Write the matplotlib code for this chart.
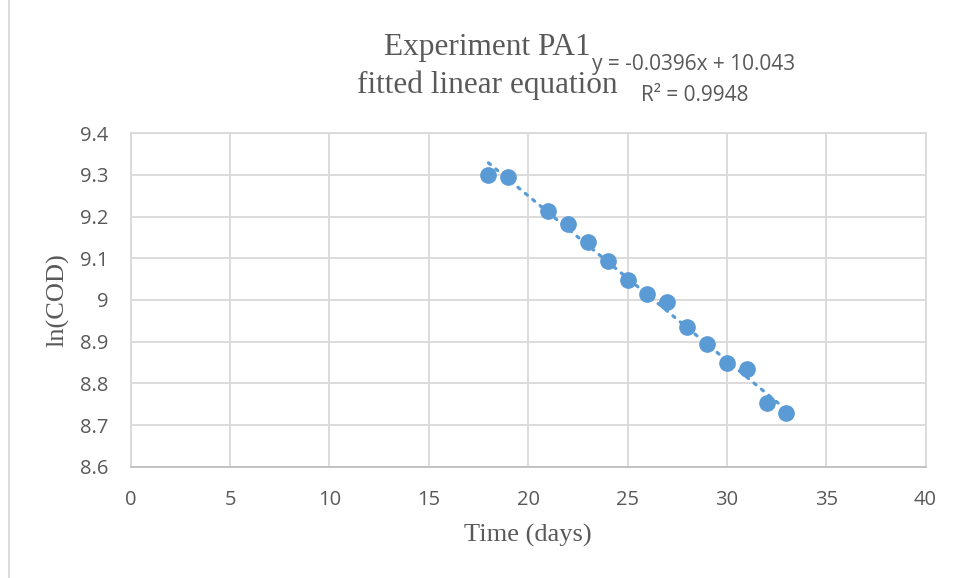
import numpy as np
import matplotlib
matplotlib.use('Agg')
import matplotlib.pyplot as plt
from matplotlib.lines import Line2D

# data
days = [18, 19, 21, 22, 23, 24, 25, 26, 27, 28, 29, 30, 31, 32, 33]
ln_cod = [9.300, 9.294, 9.214, 9.183, 9.140, 9.094, 9.048, 9.014, 8.994,
          8.934, 8.894, 8.848, 8.834, 8.752, 8.728]
x_ticks = [0, 5, 10, 15, 20, 25, 30, 35, 40]
y_ticks = [8.6, 8.7, 8.8, 8.9, 9.0, 9.1, 9.2, 9.3, 9.4]
y_labels = ['8.6', '8.7', '8.8', '8.9', '9', '9.1', '9.2', '9.3', '9.4']

blue = '#5B9BD5'
grid = '#D9D9D9'
txt = '#595959'
serif = 'Liberation Serif'
sans = 'Open Sans'

fig = plt.figure(figsize=(9.57, 5.78), dpi=100)
ax = fig.add_axes([0.1367, 0.1926, 0.9671 - 0.1367, 0.7694 - 0.1926])

ax.plot(days, ln_cod, 'o', color=blue, markersize=11, zorder=3)

# linear trendline over the data range
coef = np.polyfit(days, ln_cod, 1)
xs = np.array([days[0], days[-1]])
ax.plot(xs, np.polyval(coef, xs), color=blue, lw=2.3,
        linestyle=(0, (0.8, 2.2)), dash_capstyle='round', zorder=2)

ax.set_xlim(0, 40)
ax.set_ylim(8.6, 9.4)
ax.set_xticks(x_ticks)
ax.set_yticks(y_ticks)
ax.set_yticklabels(y_labels)
ax.grid(True, color=grid, lw=1.3)
ax.set_axisbelow(True)
for s in ax.spines.values():
    s.set_color(grid)
    s.set_linewidth(1.3)
ax.spines['bottom'].set_color('#BFBFBF')
ax.tick_params(length=0, labelsize=14.5, labelcolor=txt)
for lab in ax.get_xticklabels() + ax.get_yticklabels():
    lab.set_fontfamily(sans)
ax.tick_params(axis='y', pad=16)
ax.tick_params(axis='x', pad=17)

ax.set_xlabel('Time (days)', fontsize=19, color=txt, family=serif, labelpad=10)
ax.set_ylabel('ln(COD)', fontsize=19, color=txt, family=serif, labelpad=8)

fig.text(0.509, 0.917, 'Experiment PA1', ha='center', va='center',
         fontsize=22.5, color=txt, family=serif)
fig.text(0.509, 0.853, 'fitted linear equation', ha='center', va='center',
         fontsize=22.5, color=txt, family=serif)
fig.text(0.725, 0.889, 'y = -0.0396x + 10.043', ha='center', va='center',
         fontsize=15, color=txt, family=sans)
fig.text(0.726, 0.835, 'R² = 0.9948', ha='center', va='center',
         fontsize=15, color=txt, family=sans)

fig.add_artist(Line2D([8.5 / 957, 8.5 / 957], [0, 1], color='#D9D9D9',
                      lw=1.3, transform=fig.transFigure))

fig.savefig('out.png', dpi=100)
